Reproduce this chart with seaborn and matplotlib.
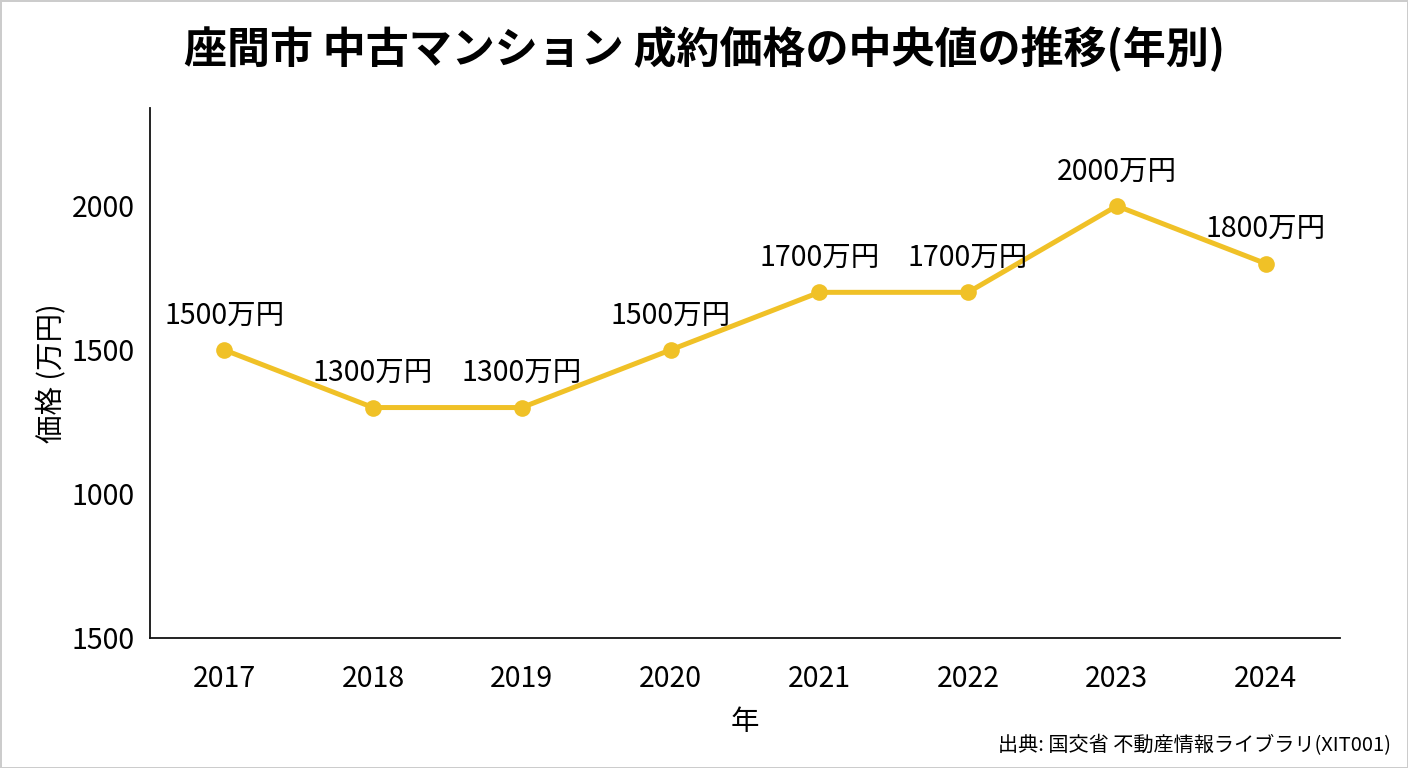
import matplotlib
matplotlib.use("Agg")
import pandas as pd
import seaborn as sns
import matplotlib.pyplot as plt

years = ["2017", "2018", "2019", "2020", "2021", "2022", "2023", "2024"]
prices = [1500, 1300, 1300, 1500, 1700, 1700, 2000, 1800]
point_labels = ["1500万円", "1300万円", "1300万円", "1500万円", "1700万円", "1700万円", "2000万円", "1800万円"]
ytick_values = [500, 1000, 1500, 2000]
ytick_labels = ["1500", "1000", "1500", "2000"]

sns.set_style("white")
plt.rcParams['font.family'] = ['Noto Sans CJK JP', 'DejaVu Sans']
plt.rcParams['text.color'] = 'black'
plt.rcParams['axes.labelcolor'] = 'black'
plt.rcParams['xtick.color'] = 'black'
plt.rcParams['ytick.color'] = 'black'

df = pd.DataFrame({"year": years, "price": prices})

fig = plt.figure(figsize=(14.08, 7.68), dpi=100, edgecolor="#cccccc", linewidth=2)
ax = fig.add_axes([0.1065, 0.1693, 0.8452, 0.6901])

yellow = "#F0C127"
sns.lineplot(data=df, x="year", y="price", color=yellow, linewidth=3.6,
             marker="o", markersize=12, markeredgewidth=0, ax=ax)

for i, (v, lab) in enumerate(zip(prices, point_labels)):
    ax.annotate(lab, xy=(i, v), xytext=(0, 14), textcoords="offset points",
                ha="center", va="bottom", fontsize=20.5, color="black")

ax.set_xlim(-0.5, len(years) - 0.5)
ax.set_ylim(500, 2340)
ax.set_yticks(ytick_values)
ax.set_yticklabels(ytick_labels)
ax.tick_params(axis="both", length=0, labelsize=20.5)
ax.tick_params(axis="y", pad=11)
ax.tick_params(axis="x", pad=19)

for s in ["top", "right"]:
    ax.spines[s].set_visible(False)
for s in ["left", "bottom"]:
    ax.spines[s].set_color("#111111")
    ax.spines[s].set_linewidth(1.3)

ax.set_xlabel("年", fontsize=20.5, labelpad=9)
ax.set_ylabel("価格 (万円)", fontsize=20.5, labelpad=4)

fig.suptitle("座間市 中古マンション 成約価格の中央値の推移(年別)", fontsize=31,
             fontweight="bold", y=0.967)
fig.text(0.988, 0.022, "出典: 国交省 不動産情報ライブラリ(XIT001)", ha="right",
         va="baseline", fontsize=14.5)

fig.savefig("out.png", dpi=100)
